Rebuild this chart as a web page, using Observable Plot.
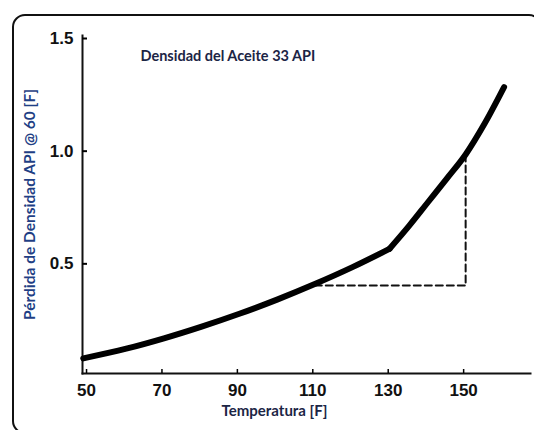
<!DOCTYPE html>
<html>
<head>
<meta charset="utf-8">
<script src="https://cdn.jsdelivr.net/npm/d3@7"></script>
<script src="https://cdn.jsdelivr.net/npm/@observablehq/plot@0.6"></script>
<style>
  html, body { margin: 0; padding: 0; background: #fff; }
  #wrap { position: relative; width: 534px; height: 430px; overflow: hidden; }
  #border { position: absolute; left: 12px; top: 14px; width: 530px; height: 420px;
            border: 2px solid #111; border-radius: 13px; box-sizing: border-box; }
  #chart { position: absolute; left: 0; top: 0; }
</style>
</head>
<body>
<div id="wrap"><div id="border"></div><div id="chart"></div></div>
<script>
// Curve: Temperature [F] vs API density loss, lower branch (up to the kink at ~130 F)
const lowerT = [48.6, 60, 70, 80, 90, 100, 110, 120, 129.8];
const lowerV = [0.067, 0.110, 0.156, 0.208, 0.265, 0.328, 0.397, 0.472, 0.553];
// upper branch (from the kink to the end)
const upperT = [129.8, 135, 140, 145, 150, 155, 160.2];
const upperV = [0.553, 0.655, 0.760, 0.865, 0.972, 1.108, 1.271];
// Dashed reading guide
const guideT = [110, 150, 150];
const guideV = [0.39, 0.39, 0.965];
// Ticks
const xTicks = [50, 70, 90, 110, 130, 150];
const yTicks = [0.5, 1.0, 1.5];
const yTickLabels = ["0.5", "1.0", "1.5"];
const title = "Densidad del Aceite 33 API";
const xLabel = "Temperatura [F]";
const yLabel = "Pérdida de Densidad API @ 60 [F]";

const lower = lowerT.map((t, i) => ({t, v: lowerV[i]}));
const upper = upperT.map((t, i) => ({t, v: upperV[i]}));
const guide = guideT.map((t, i) => ({t, v: guideV[i]}));

const chart = Plot.plot({
  width: 534,
  height: 430,
  marginLeft: 82,
  marginRight: 4,
  marginTop: 35,
  marginBottom: 57,
  style: {background: "transparent", fontFamily: "Liberation Sans, Arial, sans-serif"},
  x: {domain: [48.4, 167.2]},
  y: {domain: [0, 1.5]},
  marks: [
    Plot.frame({anchor: "left", stroke: "#111", strokeWidth: 2}),
    Plot.frame({anchor: "bottom", stroke: "#111", strokeWidth: 2}),
    Plot.axisY({ticks: yTicks, tickSize: -5, tickPadding: 14, strokeWidth: 2,
      tickFormat: d => yTickLabels[yTicks.indexOf(d)], fontSize: 17, fontWeight: "bold",
      fill: "#111", dy: 3, label: null}),
    Plot.axisX({ticks: xTicks, tickSize: -4, tickPadding: 14, strokeWidth: 1.5,
      fontSize: 17, fontWeight: "bold", fill: "#111", dx: -2, label: null}),
    Plot.line(guide, {x: "t", y: "v", stroke: "#111", strokeWidth: 2, strokeDasharray: "7,4"}),
    Plot.line(lower, {x: "t", y: "v", stroke: "#000", strokeWidth: 6, curve: "monotone-x", strokeLinejoin: "round"}),
    Plot.line(upper, {x: "t", y: "v", stroke: "#000", strokeWidth: 6, curve: "monotone-x", strokeLinejoin: "round"}),
    Plot.text([title], {text: d => d, frameAnchor: "top-left", dx: 58, dy: 15, textAnchor: "start",
      fontFamily: "Lato", fontWeight: "bold", fontSize: 14.5, fill: "#1c2545"}),
    Plot.text([xLabel], {text: d => d, frameAnchor: "bottom", dx: -32, dy: 42, textAnchor: "middle",
      fontFamily: "Lato", fontWeight: "bold", fontSize: 15, fill: "#1c2545"}),
    Plot.text([yLabel], {text: d => d, frameAnchor: "left", dx: -52, dy: 0, rotate: -90, textAnchor: "middle",
      fontFamily: "Lato", fontWeight: "bold", fontSize: 15.5, fill: "#1f3f85"})
  ]
});
document.getElementById("chart").appendChild(chart);
</script>
</body>
</html>
